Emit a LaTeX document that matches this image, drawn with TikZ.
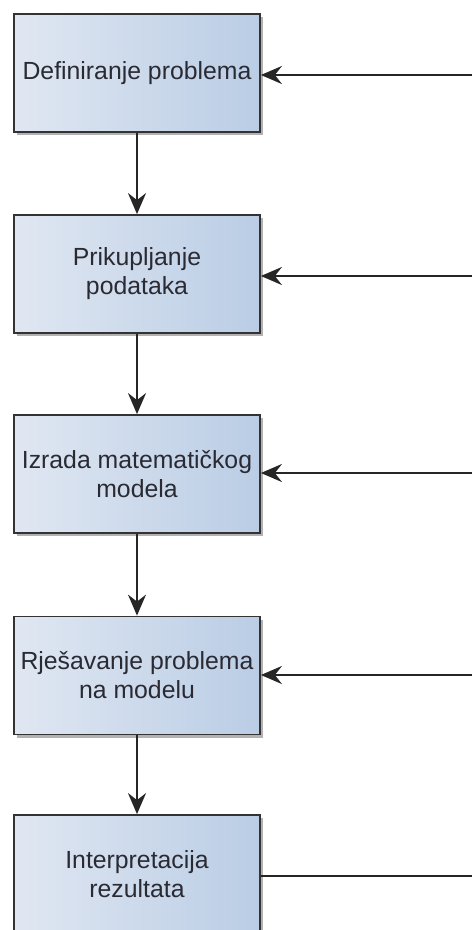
\documentclass[tikz,border=0pt]{standalone}
\usepackage{fontspec}
\setmainfont{Liberation Sans}
\usetikzlibrary{arrows.meta,shadows}
\definecolor{boxL}{HTML}{E0E7F2}
\definecolor{boxR}{HTML}{BACDE5}
\definecolor{edge}{HTML}{333333}
\definecolor{txt}{HTML}{2A2A33}
\begin{document}
\begin{tikzpicture}[x=1pt,y=-1pt,
  stepbox/.style={draw=edge, line width=1.8pt, left color=boxL, right color=boxR,
    minimum width=246pt, minimum height=118pt, inner sep=0pt, align=center,
    text=txt, font=\fontsize{24.8}{29}\selectfont,
    drop shadow={shadow xshift=3pt, shadow yshift=-3pt, fill=black, opacity=0.3}},
  flow/.style={draw=black!85, line width=1.8pt, -{Stealth[length=21pt,width=18pt,inset=7pt]}},
  link/.style={draw=black!85, line width=1.8pt}]
\useasboundingbox (0,0) rectangle (472,930);
\clip (0,0) rectangle (472,930);
\fill[white] (0,0) rectangle (472,930);
\node[stepbox] (b1) at (137,73) {Definiranje problema};
\node[stepbox] (b2) at (137,274) {Prikupljanje\\podataka};
\node[stepbox] (b3) at (137,474) {Izrada matematičkog\\modela};
\node[stepbox] (b4) at (137,675.5) {Rješavanje problema\\na modelu};
\node[stepbox] (b5) at (137,874) {Interpretacija\\rezultata};
\coordinate (r1) at (472,75);
\coordinate (r2) at (472,276);
\coordinate (r3) at (472,473);
\coordinate (r4) at (472,675);
\coordinate (r5) at (472,876);
\draw[flow] (b1) -- (b2);
\draw[flow] (b2) -- (b3);
\draw[flow] (b3) -- (b4);
\draw[flow] (b4) -- (b5);
\draw[flow] (r1) -- (r1 -| b1.east);
\draw[flow] (r2) -- (r2 -| b2.east);
\draw[flow] (r3) -- (r3 -| b3.east);
\draw[flow] (r4) -- (r4 -| b4.east);
\draw[link] (b5.east |- r5) -- (r5);
\end{tikzpicture}
\end{document}
